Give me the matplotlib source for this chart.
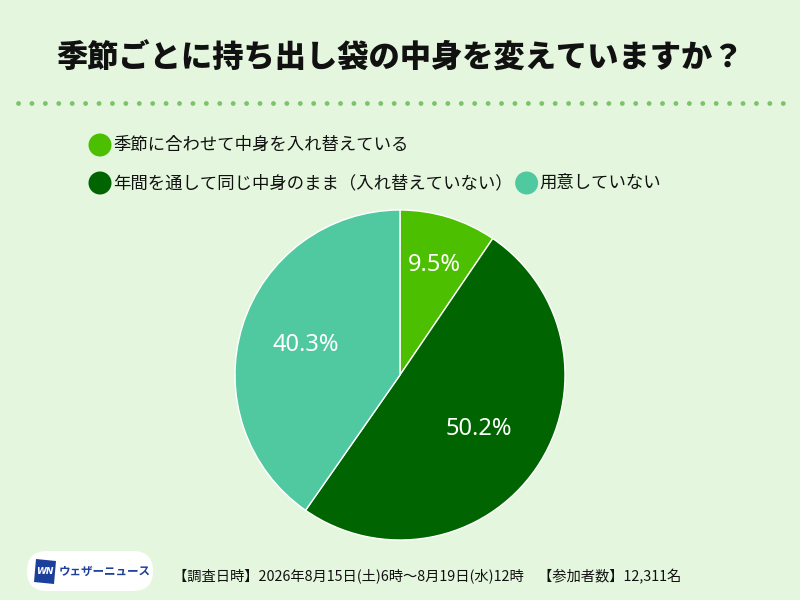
import matplotlib.pyplot as plt
from matplotlib.patches import Circle, FancyBboxPatch, Polygon
import numpy as np

plt.rcParams['font.family'] = ['Noto Sans CJK JP', 'DejaVu Sans']

title = "季節ごとに持ち出し袋の中身を変えていますか？"
labels = ["季節に合わせて中身を入れ替えている",
          "年間を通して同じ中身のまま（入れ替えていない）",
          "用意していない"]
values = [9.5, 50.2, 40.3]
colors = ["#4cbf00", "#006400", "#50c9a0"]
label_dist = [0.70, 0.58, 0.60]
footer = "【調査日時】2026年8月15日(土)6時～8月19日(水)12時　【参加者数】12,311名"

BG = "#e4f7de"
H = 600

fig = plt.figure(figsize=(8, 6), dpi=100, facecolor=BG)
ax = fig.add_axes([0, 0, 1, 1])
ax.set_facecolor(BG)

wedges, _ = ax.pie(values, colors=colors, startangle=90, counterclock=False,
                   center=(400, H - 375), radius=165,
                   wedgeprops=dict(edgecolor="white", linewidth=1))

# percent labels inside the slices
for w, v, d in zip(wedges, values, label_dist):
    ang = np.deg2rad((w.theta1 + w.theta2) / 2)
    x = w.center[0] + d * w.r * np.cos(ang)
    y = w.center[1] + d * w.r * np.sin(ang)
    ax.text(x, y, f"{v:.1f}%", color="white", fontsize=17,
            family=["Noto Sans", "DejaVu Sans"], ha="center", va="center")

ax.set_xlim(0, 800)
ax.set_ylim(0, H)
ax.set_aspect("equal")
ax.axis("off")

# title
ax.text(400, H - 58, title, fontsize=22.5, fontweight="black",
        ha="center", va="center", color="#111111")

# dotted separator
ax.plot([18, 784], [H - 103, H - 103], color="#7cc46a", lw=3.5,
        linestyle=(0, (0.01, 2.75)), dash_capstyle="round")

# legend (row 1: first item, row 2: second and third)
fig.canvas.draw()
renderer = fig.canvas.get_renderer()
rows = [(0, 100, 145), (1, 100, 183)]
fs = 12.5
for i, cx, cy in rows:
    ax.add_patch(Circle((cx, H - cy), 11.5, color=colors[i], lw=0))
    t = ax.text(cx + 13, H - cy, labels[i], fontsize=fs, ha="left",
                va="center", color="#111111")
    if i == 1:
        bb = t.get_window_extent(renderer)
        cx3 = bb.x1 + 14
        ax.add_patch(Circle((cx3, H - cy), 11.5, color=colors[2], lw=0))
        ax.text(cx3 + 13, H - cy, labels[2], fontsize=fs, ha="left",
                va="center", color="#111111")

# logo
ax.add_patch(FancyBboxPatch((27, H - 591), 126, 40,
                            boxstyle="round,pad=0,rounding_size=20",
                            fc="white", ec="none"))
ax.add_patch(Polygon([(36, H - 559), (56, H - 561), (54, H - 584), (34, H - 582)],
                     closed=True, fc="#1d3f9c", ec="none"))
ax.text(45, H - 571, "WN", color="white", fontsize=6.5, fontweight="bold",
        style="italic", family=["DejaVu Sans"], ha="center", va="center")
ax.text(59, H - 571, "ウェザーニュース", color="#1d3f9c", fontsize=8.3,
        fontweight="bold", ha="left", va="center")

# footer
ax.text(173, H - 577, footer, fontsize=10.3, ha="left", va="center",
        color="#111111")

fig.savefig("out.png", dpi=100, facecolor=BG)
